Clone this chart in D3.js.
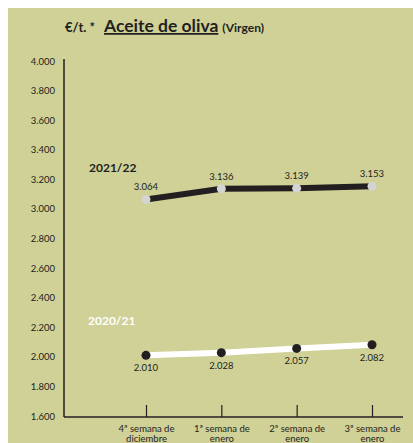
<!DOCTYPE html>
<html>
<head>
<meta charset="utf-8">
<script src="https://cdn.jsdelivr.net/npm/d3@7"></script>
<style>
  body { margin: 0; background: #fff; }
  svg { display: block; font-family: Lato, 'Open Sans', sans-serif; }
</style>
</head>
<body>
<div id="chart-div"></div>
<script>
const WIDTH = 413;
const HEIGHT = 443;

const weeks = ['4ª semana de diciembre', '1ª semana de enero', '2ª semana de enero', '3ª semana de enero'];
const weekLines = [['4ª semana de', 'diciembre'], ['1ª semana de', 'enero'], ['2ª semana de', 'enero'], ['3ª semana de', 'enero']];
const season2122 = [3064, 3136, 3139, 3153];
const season2021 = [2010, 2028, 2057, 2082];
const yTicks = [1600, 1800, 2000, 2200, 2400, 2600, 2800, 3000, 3200, 3400, 3600, 3800, 4000];

const BG = '#cfd197';
const INK = '#231f20';

const fmt = v => d3.format(',')(v).replace(',', '.');

const svg = d3.select('#chart-div')
  .append('svg')
  .attr('width', WIDTH)
  .attr('height', HEIGHT);

svg.append('rect')
  .attr('x', 8).attr('y', 8)
  .attr('width', WIDTH - 8).attr('height', HEIGHT - 8)
  .attr('fill', BG);

// title
let title = svg.append('text')
  .attr('x', 65).attr('y', 32)
  .attr('fill', INK)
  .attr('font-weight', 'bold');
title.append('tspan').attr('font-size', 13).text('€/t. *');
title.append('tspan').attr('dx', 9).attr('font-size', 17.5)
  .attr('text-decoration', 'underline').text('Aceite de oliva');
title.append('tspan').attr('dx', 4).attr('font-size', 12).text('(Virgen)');

const xScale = d3.scalePoint()
  .domain(weeks)
  .range([146, 372]);

const yScale = d3.scaleLinear()
  .domain([1600, 4000])
  .range([416, 61]);

// y axis
let yAxis = svg.append('g')
  .attr('transform', 'translate(64,0)')
  .call(d3.axisLeft(yScale).tickValues(yTicks).tickSize(0).tickPadding(9).tickFormat(fmt));
yAxis.select('.domain').attr('d', 'M0,59V417').attr('stroke', INK).attr('stroke-width', 1.5);
yAxis.selectAll('text').attr('fill', INK).attr('font-size', 9.5).attr('font-family', 'Lato, sans-serif');

// x axis (ticks point up)
let xAxis = svg.append('g')
  .attr('transform', 'translate(0,417)')
  .call(d3.axisBottom(xScale).tickSizeInner(-12).tickSizeOuter(0).tickFormat(''));
xAxis.select('.domain').attr('d', 'M64,0H403').attr('stroke', INK).attr('stroke-width', 1.5);
xAxis.selectAll('.tick line').attr('stroke', INK).attr('stroke-width', 1.2);

xAxis.selectAll('.tick').each(function(d, i) {
  let t = d3.select(this).append('text')
    .attr('text-anchor', 'middle')
    .attr('fill', INK)
    .attr('font-size', 9.5)
    .attr('font-family', 'Lato, sans-serif');
  weekLines[i].forEach((line, j) => {
    t.append('tspan').attr('x', 0).attr('y', 15 + j * 9.5).text(line);
  });
});

const line = d3.line()
  .x((d, i) => xScale(weeks[i]))
  .y(d => yScale(d));

// 2021/22
svg.append('path')
  .datum(season2122)
  .attr('d', line)
  .attr('fill', 'none')
  .attr('stroke', INK)
  .attr('stroke-width', 6);

svg.append('g')
  .selectAll('circle')
  .data(season2122)
  .join('circle')
  .attr('cx', (d, i) => xScale(weeks[i]))
  .attr('cy', d => yScale(d))
  .attr('r', 4.5)
  .attr('fill', '#d4d4d4');

svg.append('g')
  .selectAll('text')
  .data(season2122)
  .join('text')
  .attr('x', (d, i) => xScale(weeks[i]))
  .attr('y', d => yScale(d) - 9)
  .attr('text-anchor', 'middle')
  .attr('fill', INK)
  .attr('font-size', 9.5)
  .text(fmt);

svg.append('text')
  .attr('x', 89).attr('y', 172)
  .attr('fill', INK)
  .attr('font-weight', 'bold')
  .attr('font-size', 12)
  .text('2021/22');

// 2020/21
svg.append('path')
  .datum(season2021)
  .attr('d', line)
  .attr('fill', 'none')
  .attr('stroke', '#ffffff')
  .attr('stroke-width', 6);

svg.append('g')
  .selectAll('circle')
  .data(season2021)
  .join('circle')
  .attr('cx', (d, i) => xScale(weeks[i]))
  .attr('cy', d => yScale(d))
  .attr('r', 4.5)
  .attr('fill', INK);

svg.append('g')
  .selectAll('text')
  .data(season2021)
  .join('text')
  .attr('x', (d, i) => xScale(weeks[i]))
  .attr('y', d => yScale(d) + 16)
  .attr('text-anchor', 'middle')
  .attr('fill', INK)
  .attr('font-size', 9.5)
  .text(fmt);

svg.append('text')
  .attr('x', 88).attr('y', 325)
  .attr('fill', '#ffffff')
  .attr('font-weight', 'bold')
  .attr('font-size', 12)
  .text('2020/21');
</script>
</body>
</html>
